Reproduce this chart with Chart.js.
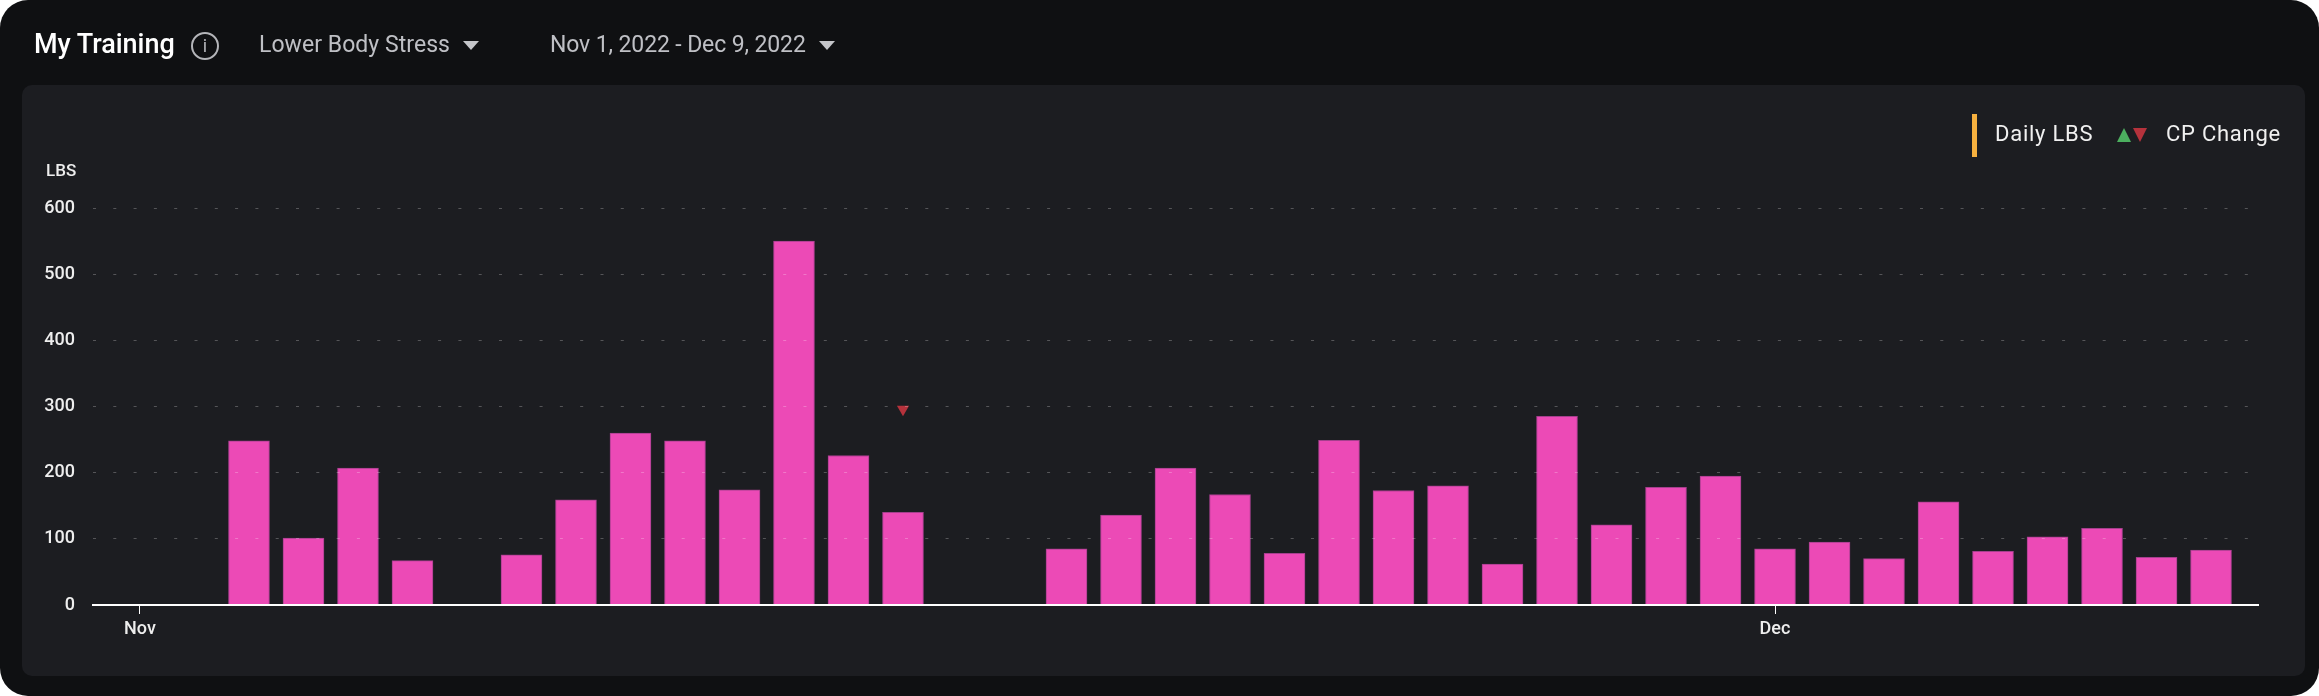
<!DOCTYPE html>
<html>
<head>
<meta charset="utf-8">
<title>My Training</title>
<script src="https://cdn.jsdelivr.net/npm/chart.js@4/dist/chart.umd.min.js"></script>
<style>
    html, body { margin: 0; padding: 0; background: #fff; overflow: hidden; }
    body { width: 2319px; height: 696px; position: relative; font-family: Roboto, sans-serif; }
    .card { position: absolute; left: 0; top: 0; width: 2319px; height: 696px; background: #0f1012; border-radius: 28px; }
    .panel { position: absolute; left: 22px; top: 85px; width: 2283px; height: 591px; background: #1c1d21; border-radius: 10px; }
    #chartBox { position: absolute; left: 0; top: 0; width: 2319px; height: 696px; }
    .txt { position: absolute; white-space: nowrap; line-height: 1; }
    .title { left: 34px; top: 31px; font-size: 27px; font-weight: 500; color: #fff; letter-spacing: -0.05px; }
    .pick { top: 33px; font-size: 23px; color: #bfc0c5; }
    .info { position: absolute; left: 191px; top: 32px; width: 24px; height: 24px; border: 2px solid #b4b5b9; border-radius: 50%;
        color: #b4b5b9; font-size: 18px; line-height: 24px; text-align: center; }
    .caret { position: absolute; width: 0; height: 0; border-left: 8px solid transparent; border-right: 8px solid transparent; border-top: 9px solid #c4c5c9; }
    .legendBar { position: absolute; left: 1972px; top: 114px; width: 5px; height: 43px; background: #f7b13f; }
    .legendTxt { top: 123px; font-size: 22px; color: #f0f0f0; letter-spacing: 0.75px; }
    .up { position: absolute; left: 2117px; top: 128px; width: 0; height: 0; border-left: 7.5px solid transparent; border-right: 7.5px solid transparent; border-bottom: 14px solid #4caf5f; }
    .down { position: absolute; left: 2133px; top: 128px; width: 0; height: 0; border-left: 7.5px solid transparent; border-right: 7.5px solid transparent; border-top: 14px solid #b5323c; }
    .yName { left: 46px; top: 162px; font-size: 17px; font-weight: 500; color: #eee; }
</style>
</head>
<body>
<div class="card"></div>
<div class="panel"></div>
<div id="chartBox"><canvas id="trainingChart"></canvas></div>

<div class="txt title">My Training</div>
<div class="info">i</div>
<div class="txt pick" style="left:259px;letter-spacing:0.05px">Lower Body Stress</div>
<div class="caret" style="left:463px;top:41px"></div>
<div class="txt pick" style="left:550px;letter-spacing:-0.12px">Nov 1, 2022 - Dec 9, 2022</div>
<div class="caret" style="left:819px;top:41px"></div>

<div class="legendBar"></div>
<div class="txt legendTxt" style="left:1995px">Daily LBS</div>
<div class="up"></div>
<div class="down"></div>
<div class="txt legendTxt" style="left:2166px">CP Change</div>
<div class="txt yName">LBS</div>

<script>
// One entry per day, Nov 1 to Dec 9
const days = [
    'Nov 1', 'Nov 2', 'Nov 3', 'Nov 4', 'Nov 5', 'Nov 6', 'Nov 7', 'Nov 8', 'Nov 9', 'Nov 10',
    'Nov 11', 'Nov 12', 'Nov 13', 'Nov 14', 'Nov 15', 'Nov 16', 'Nov 17', 'Nov 18', 'Nov 19', 'Nov 20',
    'Nov 21', 'Nov 22', 'Nov 23', 'Nov 24', 'Nov 25', 'Nov 26', 'Nov 27', 'Nov 28', 'Nov 29', 'Nov 30',
    'Dec 1', 'Dec 2', 'Dec 3', 'Dec 4', 'Dec 5', 'Dec 6', 'Dec 7', 'Dec 8', 'Dec 9'
];
const dailyLbs = [
    null, null, 248, 101, 207, 67, null, 76, 159, 260,
    248, 174, 550, 226, 140, null, null, 85, 136, 207,
    167, 78, 249, 173, 180, 62, 285, 121, 178, 195,
    85, 95, 70, 156, 81, 103, 116, 72, 83
];
const cpChange = [
    null, null, null, null, null, null, null, null, null, null,
    null, null, null, null, 296, null, null, null, null, null,
    null, null, null, null, null, null, null, null, null, null,
    null, null, null, null, null, null, null, null, null
];
const monthTickDays = [0, 30];
const monthTickLabels = ['Nov', 'Dec'];
const yTicks = [0, 100, 200, 300, 400, 500, 600];

// Turn a daily series into {x, y} points on the linear x axis
function toPoints(values) {
    return days.map(function(day, i) {
        return { x: i, y: values[i] };
    });
}

const tickFont = { family: 'Roboto', size: 18, weight: '500' };

new Chart(document.getElementById('trainingChart'), {
    data: {
        datasets: [{
            type: 'scatter',
            label: 'CP Change',
            data: toPoints(cpChange),
            pointStyle: 'triangle',
            rotation: 180,
            radius: 7,
            backgroundColor: '#b5323c',
            borderWidth: 0,
            order: 0
        }, {
            type: 'bar',
            label: 'Daily LBS',
            data: toPoints(dailyLbs),
            backgroundColor: '#ec4ab6',
            borderColor: '#a53f8d',
            borderWidth: 1,
            barThickness: 41,
            order: 1
        }]
    },
    options: {
        responsive: true,
        maintainAspectRatio: false,
        animation: false,
        layout: { padding: { top: 208, right: 61, left: 0, bottom: 0 } },
        plugins: { legend: { display: false }, tooltip: { enabled: false } },
        scales: {
            x: {
                type: 'linear',
                offset: false, // the bar chart default would shift the ticks
                min: -0.862,
                max: 38.862,
                afterBuildTicks: function(scale) {
                    scale.ticks = monthTickDays.map(function(d) { return { value: d }; });
                },
                afterFit: function(scale) { scale.height = 91; },
                ticks: {
                    autoSkip: false,
                    maxRotation: 0,
                    padding: 5,
                    color: '#eeeeee',
                    font: tickFont,
                    callback: function(value) {
                        return monthTickLabels[monthTickDays.indexOf(value)];
                    }
                },
                grid: { offset: false, drawOnChartArea: false, tickLength: 9, tickColor: '#ffffff', lineWidth: 1 },
                border: { color: '#ffffff', width: 2, z: 2 }
            },
            y: {
                min: 0,
                max: 600,
                afterBuildTicks: function(scale) {
                    scale.ticks = yTicks.map(function(v) { return { value: v }; });
                },
                afterFit: function(scale) { scale.width = 93; },
                ticks: { padding: 18, color: '#eeeeee', font: tickFont },
                grid: { color: 'rgba(255,255,255,0.25)', lineWidth: 1, drawTicks: false, z: 1 },
                border: { display: false, dash: [3, 17.3] }
            }
        }
    }
});
</script>
</body>
</html>
